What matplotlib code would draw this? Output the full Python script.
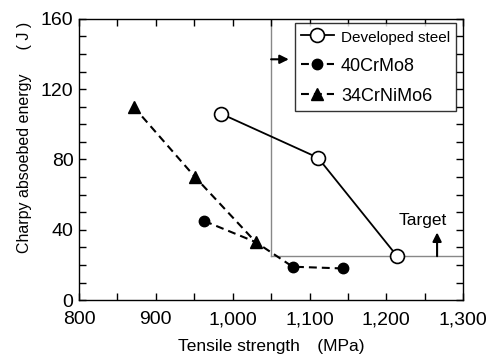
import matplotlib
matplotlib.use('Agg')
import matplotlib.pyplot as plt
from matplotlib.ticker import MultipleLocator, FuncFormatter

plt.rcParams['font.family'] = ['Liberation Sans', 'DejaVu Sans']

# data
dev_x = [985, 1111, 1214]
dev_y = [106, 81, 25]
crmo_x = [963, 1030, 1078, 1144]
crmo_y = [45, 33, 19, 18]
nimo_x = [871, 951, 1030]
nimo_y = [110, 70, 33]
target_strength = 1050
target_energy = 25

fig = plt.figure(figsize=(4.97, 3.56), dpi=100)
ax = fig.add_axes([0.159, 0.157, 0.773, 0.790])

# target lines
ax.plot([target_strength, target_strength], [target_energy, 160], color='#888888', lw=1, zorder=1)
ax.plot([target_strength, 1300], [target_energy, target_energy], color='#888888', lw=1, zorder=1)

dash = (0, (3.8, 2.4))
ax.plot(dev_x, dev_y, '-', color='black', lw=1.3, marker='o', ms=10,
        mfc='white', mec='black', mew=1.2, label='Developed steel', zorder=3)
ax.plot(crmo_x, crmo_y, color='black', lw=1.5, linestyle=dash, marker='o', ms=7.5,
        markevery=[0, 2, 3], label='40CrMo8', zorder=3)
ax.plot(nimo_x, nimo_y, color='black', lw=1.5, linestyle=dash, marker='^', ms=8.5,
        label='34CrNiMo6', zorder=3)

ax.annotate('', xy=(1073, 137), xytext=(target_strength, 137),
            arrowprops=dict(arrowstyle='-|>', color='black', lw=1.5, mutation_scale=13,
                            shrinkA=0, shrinkB=0))
ax.annotate('', xy=(1266, 38.5), xytext=(1266, target_energy),
            arrowprops=dict(arrowstyle='-|>', color='black', lw=1.5, mutation_scale=13,
                            shrinkA=0, shrinkB=0))
ax.text(1247, 42.7, 'Target', ha='center', va='baseline', fontsize=12.5)

ax.set_xlim(800, 1300)
ax.set_ylim(0, 160)
ax.xaxis.set_major_locator(MultipleLocator(100))
ax.xaxis.set_minor_locator(MultipleLocator(50))
ax.yaxis.set_major_locator(MultipleLocator(40))
ax.yaxis.set_minor_locator(MultipleLocator(10))
ax.xaxis.set_major_formatter(FuncFormatter(lambda v, p: '{:,.0f}'.format(v)))
ax.tick_params(which='both', direction='in', top=True, right=True, length=5, width=1)
ax.tick_params(which='major', labelsize=14)
ax.tick_params(axis='x', which='major', pad=8)
ax.tick_params(axis='y', which='major', pad=4)
for s in ax.spines.values():
    s.set_linewidth(1)

ax.set_xlabel('Tensile strength\u2003(MPa)', fontsize=12.5)
ax.xaxis.set_label_coords(0.5, -0.165)
ax.xaxis.label.set_va('center')
ax.set_ylabel('Charpy absoebed energy\u2003\u2002( J )', fontsize=11.5)
ax.yaxis.set_label_coords(-0.143, 0.578)
ax.yaxis.label.set_va('center')

leg = ax.legend(loc='upper right', bbox_to_anchor=(0.982, 0.986), fontsize=13,
                frameon=True, fancybox=False, edgecolor='black', handlelength=1.8,
                handletextpad=0.4, borderpad=0.35, labelspacing=0.72, borderaxespad=0)
leg.get_frame().set_linewidth(1)
leg.texts[0].set_fontsize(11)

fig.savefig('out.png', dpi=100)
